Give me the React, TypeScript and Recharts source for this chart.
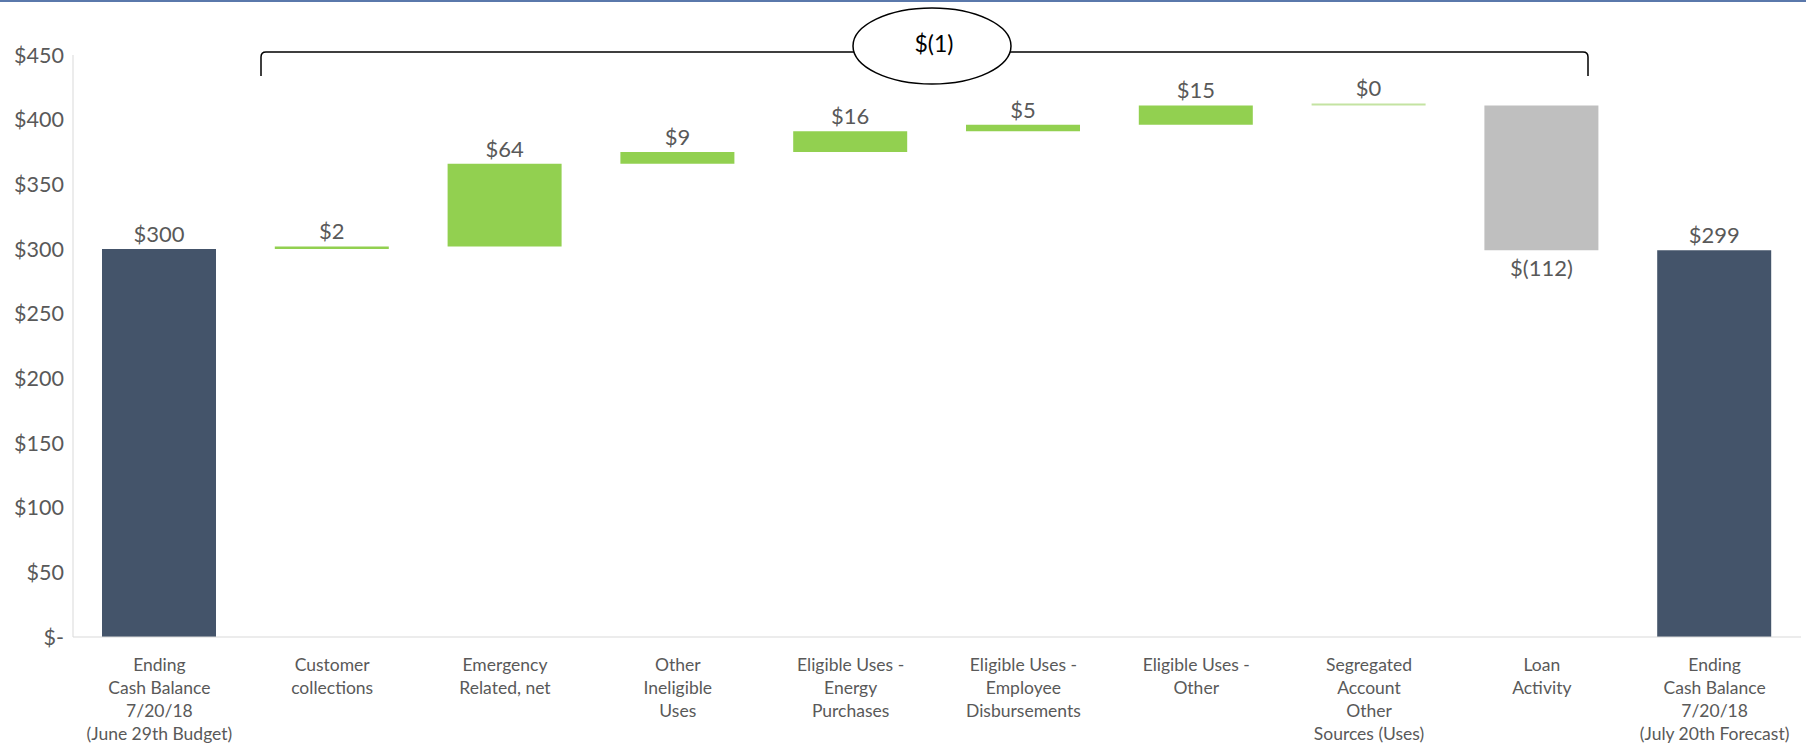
import React from 'react';
import { BarChart, Bar, XAxis, YAxis, Cell, LabelList } from 'recharts';

// waterfall steps, in $
const categories = [
  ['Ending', 'Cash Balance', '7/20/18', '(June 29th Budget)'],
  ['Customer', 'collections'],
  ['Emergency', 'Related, net'],
  ['Other', 'Ineligible', 'Uses'],
  ['Eligible Uses -', 'Energy', 'Purchases'],
  ['Eligible Uses -', 'Employee', 'Disbursements'],
  ['Eligible Uses -', 'Other'],
  ['Segregated', 'Account', 'Other', 'Sources (Uses)'],
  ['Loan', 'Activity'],
  ['Ending', 'Cash Balance', '7/20/18', '(July 20th Forecast)'],
];
const deltas = [300, 2, 64, 9, 16, 5, 15, 0, -112, 299];
const totals = [true, false, false, false, false, false, false, false, false, true];
const yTicks = [0, 50, 100, 150, 200, 250, 300, 350, 400, 450];
const bracketLabel = '$(1)';

const NAVY = '#44546a';
const GREEN = '#92d050';
const PALE_GREEN = '#c4e3a2';
const GRAY = '#bfbfbf';
const TEXT = '#595959';
const FONT = 'Lato, "Open Sans", sans-serif';

// running totals -> [low, high] ranges
let running = 0;
const data = deltas.map((d, i) => {
  let low: number, high: number;
  if (totals[i]) {
    low = 0;
    high = d;
    running = d;
  } else {
    const next = running + d;
    low = Math.min(running, next);
    high = Math.max(running, next);
    running = next;
  }
  return { name: categories[i].join(' '), range: [low, high], value: d, total: totals[i] };
});

const money = (v: number) => (v === 0 ? '$0' : v < 0 ? `$(${-v})` : `$${v}`);

function CategoryTick(props: any) {
  const { x, y, index } = props;
  const lines = categories[index] || [];
  return (
    <text x={x} y={y + 34} textAnchor="middle" fill={TEXT} fontSize={17.5} fontFamily={FONT}>
      {lines.map((l, i) => (
        <tspan key={i} x={x} dy={i === 0 ? 0 : 23}>{l}</tspan>
      ))}
    </text>
  );
}

function ValueLabel(props: any) {
  const { x, y, width, height, value } = props;
  const cx = x + width / 2;
  const top = Math.min(y, y + height);
  const bottom = Math.max(y, y + height);
  const ty = value < 0 ? bottom + 26 : top - 7;
  return (
    <text x={cx} y={ty} textAnchor="middle" fill={TEXT} fontSize={22} fontFamily={FONT}>
      {money(value)}
    </text>
  );
}

export default function App() {
  return (
    <div style={{ position: 'relative', width: 1806, height: 744, background: '#fff' }}>
      <style>{`body{margin:0}`}</style>
      <div style={{ position: 'absolute', left: 0, top: 0, width: 1806, height: 2, background: '#5a78ab' }} />
      <BarChart width={1806} height={744} data={data} margin={{ top: 55, right: 5, bottom: 0, left: 0 }}>
        <XAxis
          dataKey="name"
          interval={0}
          height={107}
          tickLine={false}
          tickSize={0}
          tickMargin={0}
          axisLine={{ stroke: '#d9d9d9' }}
          tick={<CategoryTick />}
        />
        <YAxis
          width={73}
          domain={[0, 450]}
          ticks={yTicks}
          interval={0}
          tickLine={false}
          tickSize={0}
          tickMargin={9}
          axisLine={{ stroke: '#d9d9d9' }}
          tick={{ fill: TEXT, fontSize: 21.5, fontFamily: FONT }}
          tickFormatter={(v: number) => (v === 0 ? '$-' : `$${v}`)}
        />
        <Bar dataKey="range" barSize={114} minPointSize={2} isAnimationActive={false}>
          {data.map((d, i) => (
            <Cell
              key={i}
              fill={d.total ? NAVY : d.value < 0 ? GRAY : d.value === 0 ? PALE_GREEN : GREEN}
            />
          ))}
          <LabelList dataKey="value" content={<ValueLabel />} />
        </Bar>
      </BarChart>
      <svg width={1806} height={744} style={{ position: 'absolute', left: 0, top: 0, pointerEvents: 'none' }}>
        <path
          d="M261 76 L261 57 Q261 52 266 52 L1583 52 Q1588 52 1588 57 L1588 76"
          fill="none"
          stroke="#000"
          strokeWidth={1.5}
        />
        <ellipse cx={932} cy={46} rx={79} ry={38} fill="#fff" stroke="#000" strokeWidth={1.5} />
        <text x={934} y={52} textAnchor="middle" fontSize={23} fontFamily={FONT} fill="#000">
          {bracketLabel}
        </text>
      </svg>
    </div>
  );
}
